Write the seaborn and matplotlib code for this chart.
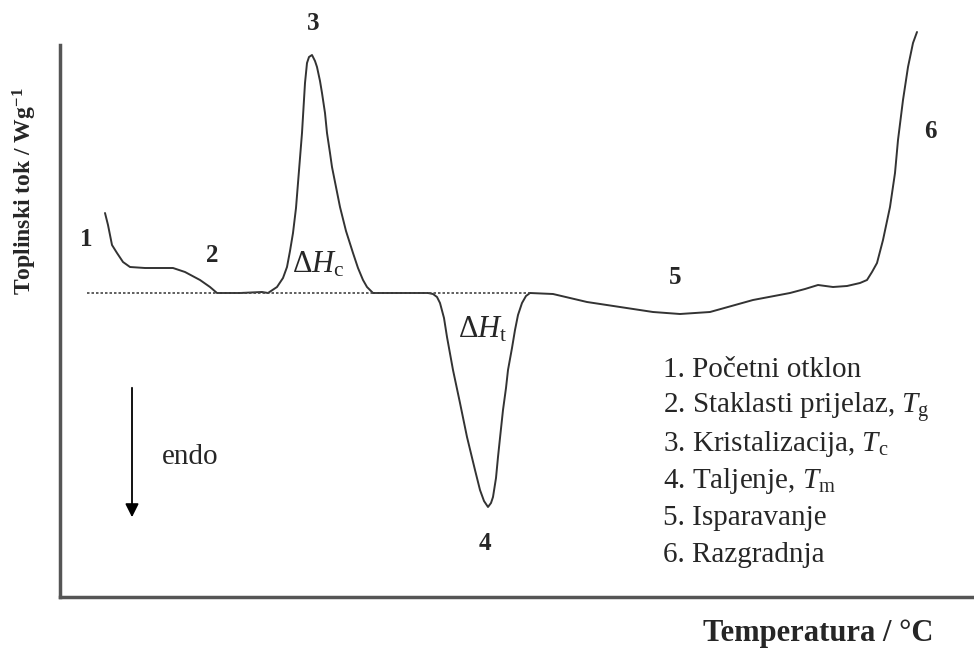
import matplotlib
matplotlib.use("Agg")
import matplotlib.pyplot as plt
import seaborn as sns
import pandas as pd

# schematic DSC curve, x = temperature (arbitrary units), y = heat flow relative to baseline
temperature = [105, 108, 112, 117, 123, 130, 145, 160, 173, 185, 200, 210, 217, 240,
               262, 268, 277, 283, 287, 290, 293, 296, 298, 300, 302, 305, 307, 309,
               312, 315, 317, 320, 322, 325, 327, 330, 332, 336, 340, 346, 353, 358,
               363, 367, 370, 373, 400, 428, 433, 437, 440, 444, 447, 453, 460, 467,
               475, 480, 484, 488, 491, 493, 496, 498, 500, 503, 506, 508, 512, 515,
               518, 522, 526, 530, 553, 587, 620, 653, 680, 710, 753, 790, 805, 818,
               833, 847, 860, 867, 872, 877, 883, 890, 895, 898, 903, 908, 913, 917]
heat_flow = [80, 68, 48, 40, 31, 26, 25, 25, 25, 21, 13, 6, 0, 0,
             1, 0, 6, 15, 26, 42, 60, 85, 110, 135, 160, 210, 230, 236,
             238, 232, 226, 212, 200, 180, 160, 140, 126, 106, 86, 62, 40, 25,
             13, 6, 3, 0, 0, 0, -1, -4, -10, -25, -44, -77, -110, -144,
             -177, -197, -208, -214, -210, -204, -185, -164, -145, -117, -95, -77, -55, -37,
             -22, -10, -3, 0, -1, -9, -14, -19, -21, -19, -7, 0, 4, 8,
             6, 7, 10, 13, 21, 30, 53, 86, 120, 153, 193, 226, 250, 261]

baseline_x = [87, 530]
baseline_y = [0, 0]

labels = ["1", "2", "3", "4", "5", "6"]
label_x = [86, 212, 313, 485, 675, 930]
label_y = [53, 38, 270, -250, 15, 161]

legend_lines = [
    "1. Početni otklon",
    "2. Staklasti prijelaz, $T_\\mathrm{g}$",
    "3. Kristalizacija, $T_\\mathrm{c}$",
    "4. Taljenje, $T_\\mathrm{m}$",
    "5. Isparavanje",
    "6. Razgradnja",
]

df = pd.DataFrame({"temp": temperature, "flow": heat_flow})

sns.set_style("white")
plt.rcParams["font.family"] = ["Liberation Serif", "DejaVu Serif"]
plt.rcParams["mathtext.fontset"] = "custom"
plt.rcParams["mathtext.rm"] = "Liberation Serif"
plt.rcParams["mathtext.it"] = "Liberation Serif:italic"
plt.rcParams["mathtext.bf"] = "Liberation Serif:bold"

fig = plt.figure(figsize=(9.74, 6.48), dpi=100)
ax = fig.add_axes([60 / 974, 51 / 648, 914 / 974, 572 / 648])

sns.lineplot(data=df, x="temp", y="flow", sort=False, color="#333333",
             linewidth=1.4, ax=ax, clip_on=False)
ax.plot(baseline_x, baseline_y, linestyle=(0, (1.5, 1.2)), color="#444444", linewidth=1.2)

ax.set_xlim(60, 974)
ax.set_ylim(-304, 268)
ax.set_xticks([])
ax.set_yticks([])
ax.set_xlabel("")
ax.set_ylabel("")
for side in ["top", "right"]:
    ax.spines[side].set_visible(False)
for side in ["left", "bottom"]:
    ax.spines[side].set_color("#555555")
    ax.spines[side].set_linewidth(2.5)
ax.spines["left"].set_bounds(-304, 248)

# peak numbers
for lab, lx, ly in zip(labels, label_x, label_y):
    ax.text(lx, ly, lab, fontsize=18, fontweight="bold", ha="center", va="center")

ax.text(318, 28, "Δ$H_\\mathrm{c}$", fontsize=22, ha="center", va="center")
ax.text(483, -37, "Δ$H_\\mathrm{t}$", fontsize=22, ha="center", va="center")

for i, line in enumerate(legend_lines):
    ax.text(663, -77 - i * 37, line, fontsize=21, ha="left", va="center")

# endo arrow
ax.annotate("", xy=(132, -227), xytext=(132, -92),
            arrowprops=dict(arrowstyle="-|>", color="black", lw=1.3,
                            mutation_scale=20))
ax.text(162, -164, "endo", fontsize=21, ha="left", va="center")

fig.text(25 / 974, 1 - 191 / 648, "Toplinski tok / Wg$^{\\mathbf{-1}}$", rotation=90,
         fontsize=17, fontweight="bold", ha="center", va="center")
fig.text(703 / 974, 1 - 633 / 648, "Temperatura / °C", fontsize=22,
         fontweight="bold", ha="left", va="center")

fig.savefig("out.png", dpi=100)
